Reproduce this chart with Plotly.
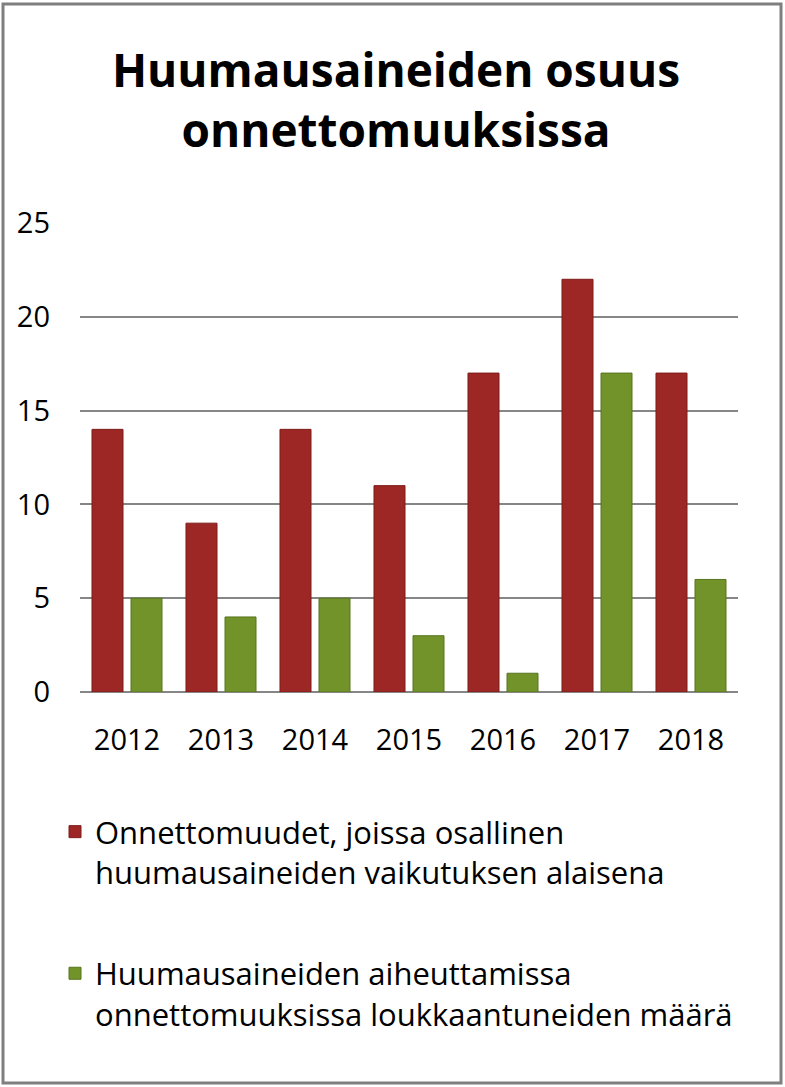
import plotly.graph_objects as go

years = ["2012", "2013", "2014", "2015", "2016", "2017", "2018"]
accidents = [14, 9, 14, 11, 17, 22, 17]
injured = [5, 4, 5, 3, 1, 17, 6]
series_names = [
    "Onnettomuudet, joissa osallinen<br>huumausaineiden vaikutuksen alaisena",
    "Huumausaineiden aiheuttamissa<br>onnettomuuksissa loukkaantuneiden määrä",
]
y_ticks = [0, 5, 10, 15, 20, 25]
title_text = "Huumausaineiden osuus<br>onnettomuuksissa"

FONT = "Open Sans"
W, H = 785, 1087
L, R, T, B = 80, 47, 223, 395
pw, ph = W - L - R, H - T - B

def px_x(p):
    return (p - L) / pw

def px_y(p):
    return (H - B - p) / ph

fig = go.Figure()
fig.add_trace(go.Bar(x=years, y=accidents, name=series_names[0], legendgroup="a",
                     marker=dict(color="#9c2724", line=dict(color="#7e1c1a", width=1))))
fig.add_trace(go.Bar(x=years, y=injured, name=series_names[1], legendgroup="b",
                     marker=dict(color="#71932a", line=dict(color="#58741e", width=1))))

fig.update_layout(
    width=W, height=H,
    margin=dict(l=L, r=R, t=T, b=B),
    paper_bgcolor="white", plot_bgcolor="white",
    barmode="group", bargap=0.17, bargroupgap=0.205,
    title=dict(text="<b>" + title_text + "</b>", x=396 / W, xref="container", xanchor="center",
               y=1 - 87 / H, yanchor="top",
               font=dict(family=FONT, size=46, color="black")),
    font=dict(family=FONT, color="black"),
    xaxis=dict(type="category", showgrid=False, showline=False, ticks="",
               tickfont=dict(size=29, family=FONT, color="black"), ticklabelstandoff=28),
    yaxis=dict(range=[0, 25], tickvals=y_ticks, showgrid=True, gridcolor="#868686", gridwidth=2,
               zeroline=True, zerolinecolor="#868686", zerolinewidth=2, showline=False, ticks="",
               tickfont=dict(size=29, family=FONT, color="black"), ticklabelstandoff=29),
    legend=dict(x=px_x(55), y=px_y(805), xanchor="left", yanchor="top",
                orientation="v", valign="top", traceorder="grouped", tracegroupgap=58,
                font=dict(size=31, family=FONT, color="black"), itemwidth=30),
    showlegend=True,
    shapes=[dict(type="rect", xref="paper", yref="paper",
                 x0=px_x(3), x1=px_x(781), y0=px_y(1083), y1=px_y(4),
                 line=dict(color="#7f7f7f", width=3), layer="below")],
)

fig.write_html("out.html", config={"displayModeBar": False},
               post_script="document.body.style.margin='0';document.body.style.overflow='hidden';")
